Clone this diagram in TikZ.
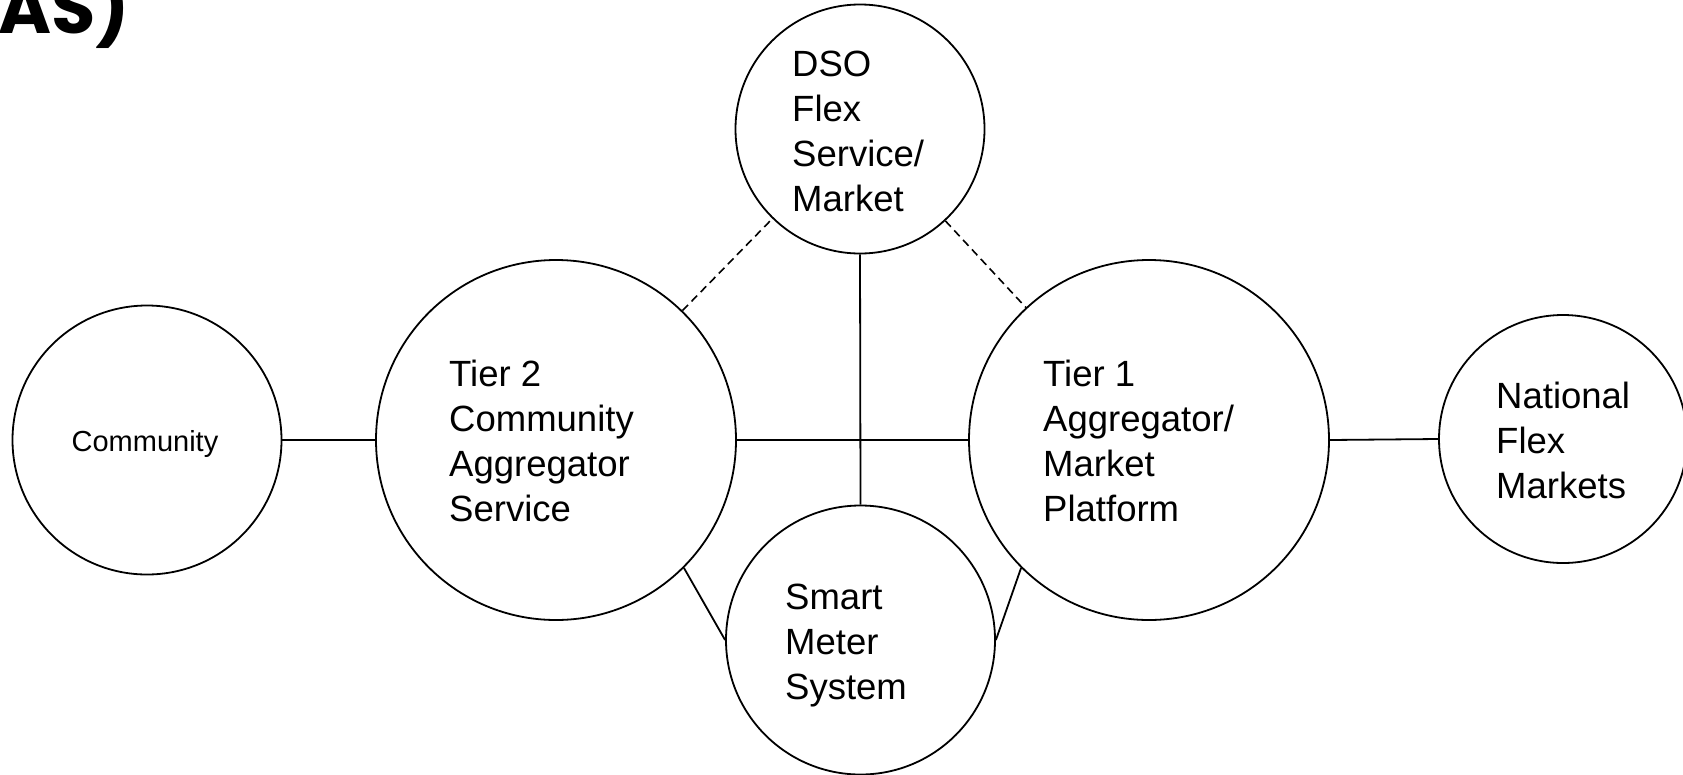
\documentclass[tikz,border=0pt]{standalone}
\usepackage{fontspec}
\setmainfont{Liberation Sans}
\newfontfamily\titlefont{Poppins}
\begin{document}
\begin{tikzpicture}[x=1pt,y=-1pt,
  bubble/.style={circle,draw,line width=1.8pt,inner sep=0pt},
  label/.style={anchor=north west,inner sep=0pt,align=left,font=\fontsize{36.5}{45}\selectfont},
  link/.style={line width=1.8pt},
  dlink/.style={line width=1.6pt,dash pattern=on 8pt off 5pt}]
\useasboundingbox (0,0) rectangle (1683,774);
% title fragment
\node[anchor=base east,inner sep=0pt,font=\titlefont\bfseries\fontsize{72}{80}\selectfont] (title) at (130,33) {AS)};
% circles
\node[bubble,minimum size=269pt] (com) at (147,440) {};
\node[bubble,minimum size=360pt] (t2) at (556,440) {};
\node[bubble,minimum size=249pt] (dso) at (860,129) {};
\node[bubble,minimum size=360pt] (t1) at (1149,440) {};
\node[bubble,minimum size=269pt] (sm) at (860.5,640) {};
\node[bubble,minimum size=248pt] (nat) at (1563,439) {};
% texts
\node[anchor=base,inner sep=0pt,font=\fontsize{29}{34}\selectfont] (comtext) at (145,451.5) {Community};
\node[label] (t2text) at (449,360) {Tier 2\\Community\\Aggregator\\Service};
\node[label] (t1text) at (1043,360) {Tier 1\\Aggregator/\\Market\\Platform};
\node[label] (dsotext) at (792,51) {DSO\\Flex\\Service/\\Market};
\node[label] (smtext) at (785,584) {Smart\\Meter\\System};
\node[label] (nattext) at (1496,382) {National\\Flex\\Markets};
% connectors
\draw[link] (com.east) -- (t2.west);
\draw[link] (t2.east) -- (t1.west);
\draw[link] (t1.east) -- (nat.west);
\draw[link] (dso.south) -- (sm.north);
\draw[link] (t2.-45) -- (sm.west);
\draw[link] (t1.-135) -- (sm.east);
\draw[dlink] (t2) -- (dso);
\draw[dlink] (dso) -- (t1);
\end{tikzpicture}
\end{document}
